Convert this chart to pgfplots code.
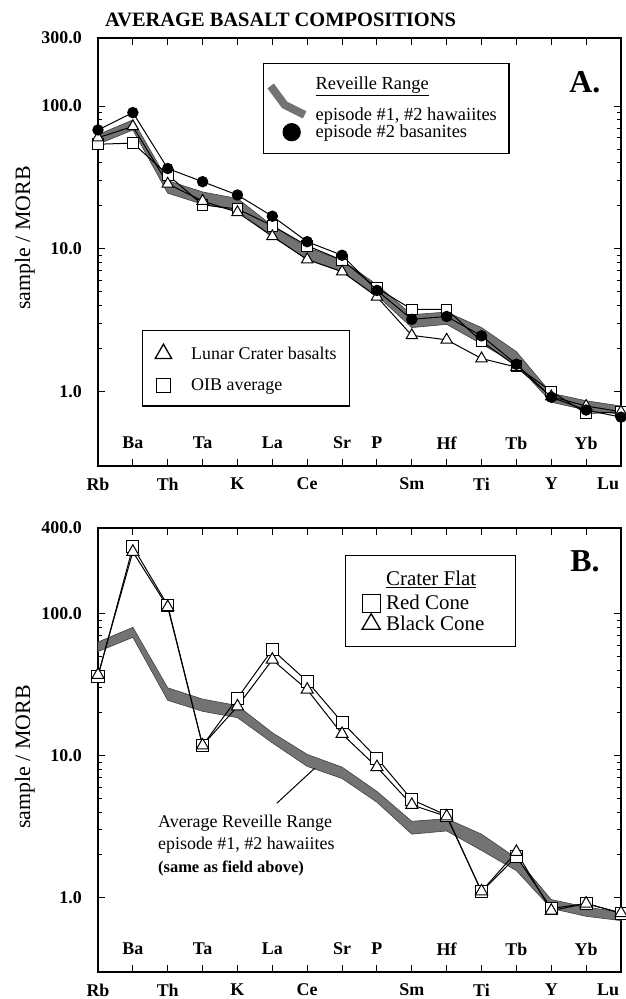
\documentclass[border=0pt]{standalone}
\usepackage{fontspec}
\setmainfont{Liberation Serif}
\usepackage{pgfplots}
\pgfplotsset{compat=1.18}
\newcommand{\fsz}[1]{\fontsize{#1}{#1}\selectfont}

\pgfplotsset{
 reeaxis/.style={
  scale only axis, width=523bp, xmin=0, xmax=15, ymin=0.3,
  xtick={0,...,15}, xticklabels={Rb,,Th,,K,,Ce,,,Sm,,Ti,,Y,,\makebox[0pt][r]{Lu}\rule{4bp}{0pt}},
  xticklabel style={anchor=center, inner sep=0pt, yshift=-18bp, font=\fsz{18}\bfseries},
  ytick={1,10,100},
  yticklabels={\textbf{1.0},\textbf{10.0},\textbf{100.0}},
  yticklabel style={anchor=east, inner sep=0pt, xshift=-16bp, font=\fsz{18}\bfseries},
  tick align=inside, major tick length=7bp, minor tick length=4bp,
  tick style={black, line width=1bp},
  axis line style={line width=1.6bp},
  ylabel={sample / MORB},
  ylabel style={anchor=center, font=\fsz{22}},
  clip=false,
 },
 serline/.style={black, line width=1bp, mark options={solid, line width=0.9bp}},
 trimark/.style={serline, mark=triangle*, mark size=6.5bp, mark options={fill=white}},
 sqmark/.style={serline, mark=square*, mark size=5.3bp, mark options={fill=white}},
 dotmark/.style={serline, mark=*, mark size=5.2bp, mark options={fill=black}},
 bandfill/.style={fill=black!55, draw=black!75, line width=0.6bp},
 legtitleA/.style={legend image code/.code={\path[draw=none, fill=none] (0bp,-23bp) -- (0bp,6bp);}},
 legtitleB/.style={legend image code/.code={\path[draw=none, fill=none] (0bp,-15bp) -- (0bp,6bp);}},
 legband/.style={legend image code/.code={\draw[overlay, line width=8bp, black!55] (0bp,29bp) -- (14bp,10bp) -- (34bp,0bp); \path[draw=none, fill=none] (0bp,0bp) -- (44bp,0bp);}},
 legdot/.style={legend image code/.code={\fill[black] (21bp,0bp) circle (8.5bp); \path[draw=none, fill=none] (0bp,0bp) -- (44bp,0bp);}},
 legtri/.style={legend image code/.code={\draw[black, line width=1.3bp, fill=white] (8.2bp,9.5bp) -- (0bp,-4.75bp) -- (16.4bp,-4.75bp) -- cycle; \path[draw=none, fill=none] (0bp,0bp) -- (35bp,0bp);}},
 legsq/.style={legend image code/.code={\draw[black, line width=1.3bp, fill=white] (1bp,-7bp) rectangle (15bp,7bp); \path[draw=none, fill=none] (0bp,0bp) -- (35bp,0bp);}},
 legtriB/.style={legend image code/.code={\draw[black, line width=1.3bp, fill=white] (9bp,10bp) -- (0bp,-5.5bp) -- (18bp,-5.5bp) -- cycle; \path[draw=none, fill=none] (0bp,0bp) -- (23bp,0bp);}},
 legsqB/.style={legend image code/.code={\draw[black, line width=1.3bp, fill=white] (0bp,-9bp) rectangle (18bp,9bp); \path[draw=none, fill=none] (0bp,0bp) -- (23bp,0bp);}},
}
\tikzset{elab/.style={anchor=center, yshift=23bp, font=\fsz{18}\bfseries}}

\begin{document}
\begin{tikzpicture}
\path[use as bounding box] (0,0) rectangle (626bp,999bp);
\node[anchor=west, font=\fsz{20.5}\bfseries, inner sep=0pt] at (105bp,979bp) {AVERAGE BASALT COMPOSITIONS};

% ---------------- Panel A ----------------
\begin{semilogyaxis}[reeaxis, at={(98bp,533bp)}, anchor=south west, height=428bp, ymax=300,
  extra y ticks={300}, extra y tick labels={\textbf{300.0}},
  ylabel style={at={(axis description cs:-0.14,0.533)}},
  legend style={at={(axis description cs:0.084,0.318)}, anchor=north west,
    draw=black, line width=1.3bp, fill=white, inner xsep=12bp, inner ysep=13bp,
    row sep=16bp, font=\fsz{18}, nodes={inner sep=1bp}},
  legend cell align=left]
\addplot[bandfill, forget plot] coordinates {
 (0,63) (1,80) (2,30) (3,25) (4,22.5) (5,14.5) (6,10.2) (7,8.3) (8,5.6) (9,3.45) (10,3.6) (11,2.8) (12,1.9) (13,0.97) (14,0.86) (15,0.79)
 (15,0.69) (14,0.74) (13,0.84) (12,1.55) (11,2.15) (10,2.95) (9,2.8) (8,4.7) (7,6.9) (6,8.4) (5,12.3) (4,18.5) (3,20.5) (2,24.5) (1,68) (0,54)
} -- cycle;
% OIB average
\addplot[sqmark, forget plot] coordinates {
 (0,54) (1,55) (2,33) (3,20.3) (4,19) (5,14.5) (6,10.5) (7,8.3) (8,5.3) (9,3.76) (10,3.76) (11,2.24) (12,1.5) (13,1.0) (14,0.70) (15,0.72)};
% Lunar Crater basalts
\addplot[trimark, forget plot] coordinates {
 (0,60) (1,72) (2,28.5) (3,21.6) (4,18) (5,12.2) (6,8.4) (7,6.9) (8,4.6) (9,2.47) (10,2.3) (11,1.7) (12,1.48) (13,0.92) (14,0.79) (15,0.72)};
\addlegendimage{legtri}
\addlegendentry{Lunar Crater basalts}
\addlegendimage{legsq}
\addlegendentry{OIB average}
\node[elab] at (axis cs:1,0.3) {Ba};
\node[elab] at (axis cs:3,0.3) {Ta};
\node[elab] at (axis cs:5,0.3) {La};
\node[elab] at (axis cs:7,0.3) {Sr};
\node[elab] at (axis cs:8,0.3) {P};
\node[elab] at (axis cs:10,0.3) {Hf};
\node[elab] at (axis cs:12,0.3) {Tb};
\node[elab] at (axis cs:14,0.3) {Yb};
\node[font=\fsz{32}\bfseries] at (axis description cs:0.931,0.897) {A.};
\end{semilogyaxis}
% overlay axis of panel A: basanites + first legend
\begin{semilogyaxis}[at={(98bp,533bp)}, anchor=south west, scale only axis, width=523bp, height=428bp,
  hide axis, xmin=0, xmax=15, ymin=0.3, ymax=300, clip=false,
  legend style={at={(axis description cs:0.3155,0.9416)}, anchor=north west,
    draw=black, line width=1.3bp, fill=white, inner xsep=7bp, inner ysep=12bp,
    font=\fsz{18.5}, nodes={inner sep=1bp}},
  legend cell align=left]
\addplot[dotmark, forget plot] coordinates {
 (0,68) (1,90) (2,36.5) (3,29.5) (4,23.8) (5,16.9) (6,11.2) (7,9.0) (8,5.1) (9,3.2) (10,3.35) (11,2.45) (12,1.55) (13,0.91) (14,0.74) (15,0.66)};
\addlegendimage{legtitleA}
\addlegendentry{\underline{Reveille Range}}
\addlegendimage{legband}
\addlegendentry{episode \#1, \#2 hawaiites\rule{4bp}{0pt}}
\addlegendimage{legdot}
\addlegendentry{episode \#2 basanites}
\end{semilogyaxis}

% ---------------- Panel B ----------------
\begin{semilogyaxis}[reeaxis, at={(98bp,27bp)}, anchor=south west, height=444bp, ymax=400,
  extra y ticks={400}, extra y tick labels={\textbf{400.0}},
  ylabel style={at={(axis description cs:-0.14,0.484)}},
  legend style={at={(axis description cs:0.472,0.939)}, anchor=north west,
    draw=black, line width=1.3bp, fill=white, inner xsep=16bp, inner ysep=14bp,
    font=\fsz{21}, nodes={inner sep=1bp}},
  legend cell align=left]
\addplot[bandfill, forget plot] coordinates {
 (0,63) (1,80) (2,30) (3,25) (4,22.5) (5,14.5) (6,10.2) (7,8.3) (8,5.6) (9,3.45) (10,3.6) (11,2.8) (12,1.9) (13,0.97) (14,0.86) (15,0.79)
 (15,0.69) (14,0.74) (13,0.84) (12,1.55) (11,2.15) (10,2.95) (9,2.8) (8,4.7) (7,6.9) (6,8.4) (5,12.3) (4,18.5) (3,20.5) (2,24.5) (1,68) (0,54)
} -- cycle;
% Red Cone
\addplot[sqmark, mark size=6bp, forget plot] coordinates {
 (0,36) (1,295) (2,114) (3,11.8) (4,25.4) (5,55.7) (6,33.3) (7,17.2) (8,9.6) (9,4.9) (10,3.8) (11,1.1) (12,1.95) (13,0.84) (14,0.91) (15,0.78)};
% Black Cone
\addplot[trimark, mark size=7bp, forget plot] coordinates {
 (0,37) (1,272) (2,111) (3,11.8) (4,22.2) (5,47.3) (6,29.1) (7,14.2) (8,8.3) (9,4.5) (10,3.73) (11,1.11) (12,2.1) (13,0.81) (14,0.91) (15,0.78)};
\addlegendimage{legtitleB}
\addlegendentry{\underline{Crater Flat}}
\addlegendimage{legsqB}
\addlegendentry{Red Cone}
\addlegendimage{legtriB}
\addlegendentry{Black Cone\rule{14bp}{0pt}}
\node[elab] at (axis cs:1,0.3) {Ba};
\node[elab] at (axis cs:3,0.3) {Ta};
\node[elab] at (axis cs:5,0.3) {La};
\node[elab] at (axis cs:7,0.3) {Sr};
\node[elab] at (axis cs:8,0.3) {P};
\node[elab] at (axis cs:10,0.3) {Hf};
\node[elab] at (axis cs:12,0.3) {Tb};
\node[elab] at (axis cs:14,0.3) {Yb};
\node[font=\fsz{32}\bfseries] at (axis description cs:0.931,0.926) {B.};
\draw[line width=1bp] (axis cs:5.13,4.63) -- (axis cs:6.22,8.17);
\node[anchor=north west, align=left, inner sep=0pt, font=\fontsize{18}{22.5}\selectfont] at (axis cs:1.72,3.85)
 {Average Reveille Range\\ episode \#1, \#2 hawaiites\\ {\fontsize{16.5}{21}\selectfont\bfseries (same as field above)}};
\end{semilogyaxis}
\end{tikzpicture}
\end{document}
